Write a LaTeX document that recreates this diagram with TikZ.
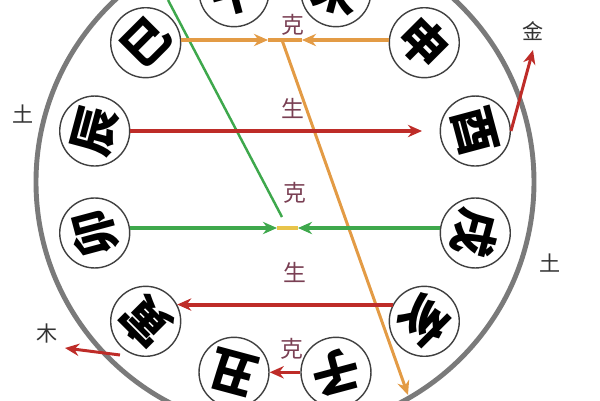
\documentclass[tikz,border=0pt]{standalone}
\usepackage{fontspec}
\newfontfamily\cjk{Noto Sans CJK SC}
\usetikzlibrary{arrows.meta}

\definecolor{rimgray}{HTML}{7A7A7A}
\definecolor{keorange}{HTML}{E39B45}
\definecolor{shengred}{HTML}{BE2C28}
\definecolor{kegreen}{HTML}{3EA84C}
\definecolor{meetyellow}{HTML}{E8C44A}
\definecolor{wordcolor}{HTML}{7A4054}

\begin{document}
\begin{tikzpicture}[x=0.02cm, y=0.02cm]

    \tikzset{branch/.style={draw=black!75,line width=0.8pt,shape=circle,minimum size=1.4cm,inner sep=0pt},
             glyph/.style={font=\cjk\bfseries\fontsize{27}{27}\selectfont,inner sep=0pt},
             word/.style={font=\cjk\fontsize{13}{13}\selectfont,text=wordcolor},
             element/.style={font=\cjk\fontsize{12}{12}\selectfont,text=black!80},
             tip/.style={-{Stealth[length=8pt,width=7pt]}}}

    \useasboundingbox (-285,-218) rectangle (315,182);

    \begin{scope}
        \clip (-285,-218) rectangle (315,182);
        \draw[rimgray, line width=2.8pt] (0,0) circle (249);
    \end{scope}

    \node[branch, label={[glyph,rotate=-165]center:子}] (zi)   at (-75:197)  {};
    \node[branch, label={[glyph,rotate=165]center:丑}]  (chou) at (-105:197) {};
    \node[branch, label={[glyph,rotate=135]center:寅}]  (yin)  at (-135:197) {};
    \node[branch, label={[glyph,rotate=105]center:卯}]  (mao)  at (-165:197) {};
    \node[branch, label={[glyph,rotate=75]center:辰}]   (chen) at (165:197)  {};
    \node[branch, label={[glyph,rotate=45]center:巳}]   (si)   at (135:197)  {};
    \node[branch, label={[glyph,rotate=15]center:午}]   (wu)   at (105:197)  {};
    \node[branch, label={[glyph,rotate=-15]center:未}]  (wei)  at (75:197)   {};
    \node[branch, label={[glyph,rotate=-45]center:申}]  (shen) at (45:197)   {};
    \node[branch, label={[glyph,rotate=-75]center:酉}]  (you)  at (15:197)   {};
    \node[branch, label={[glyph,rotate=-105]center:戌}] (xu)   at (-15:197)  {};
    \node[branch, label={[glyph,rotate=-135]center:亥}] (hai)  at (-45:197)  {};

    \node[word] (ke1)    at (8,157)   {克};
    \node[word] (sheng1) at (8,74)    {生};
    \node[word] (ke2)    at (10,-11)  {克};
    \node[word] (sheng2) at (10,-90)  {生};
    \node[word] (ke3)    at (7,-167)  {克};

    \node[element] (tu1) at (-262,68)   {土};
    \node[element] (tu2) at (265,-81)   {土};
    \node[element] (jin) at (248,151)   {金};
    \node[element] (mu)  at (-238,-151) {木};

    \coordinate (kL) at (-17,142);
    \coordinate (kR) at (17,142);
    \coordinate (kO) at (-3,142);
    \coordinate (kE) at (123,-213);
    \coordinate (gL) at (-8,-46);
    \coordinate (gR) at (13,-46);
    \coordinate (gT) at (-117,182);
    \coordinate (gE) at (-3,-35);
    \coordinate (jinT) at (248,132);
    \coordinate (muS) at (-165,-173);
    \coordinate (muT) at (-220,-166);

    % upper meeting point
    \draw[kegreen, line width=1.4pt] (gT) -- (gE);
    \draw[keorange, line width=2.8pt] (kL) -- (kR);
    \draw[keorange, line width=2.8pt, tip] (kL -| si.east) -- (kL);
    \draw[keorange, line width=2.8pt, tip] (kR -| shen.west) -- (kR);
    \draw[keorange, line width=1.7pt, tip] (kO) -- (kE);

    \draw[shengred, line width=2.3pt, tip, shorten >=10] (chen) -- (you);

    \draw[meetyellow, line width=2.3pt] (gL) -- (gR);
    \draw[kegreen, line width=2.3pt, tip] (gL -| mao.east) -- (gL);
    \draw[kegreen, line width=2.3pt, tip] (gR -| xu.west) -- (gR);

    \draw[shengred, line width=2.3pt, tip] (hai.152) -- (yin.28);
    \draw[shengred, line width=1.7pt, tip] (zi) -- (chou);

    \draw[shengred, line width=1.7pt, tip] (you.east) -- (jinT);
    \draw[shengred, line width=1.7pt, tip] (muS) -- (muT);

\end{tikzpicture}
\end{document}
